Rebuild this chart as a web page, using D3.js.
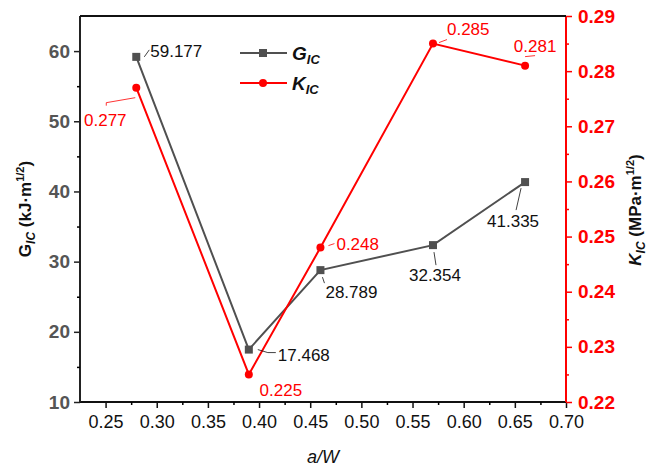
<!DOCTYPE html>
<html>
<head>
<meta charset="utf-8">
<script src="https://cdn.jsdelivr.net/npm/d3@7"></script>
<style>
  body { margin: 0; background: #fff; }
  text { font-family: "Liberation Sans", Arial, sans-serif; }
</style>
</head>
<body>
<div id="chart"></div>
<script>
// data
var aW = [0.28, 0.39, 0.46, 0.57, 0.66];
var gIC = [59.177, 17.468, 28.789, 32.354, 41.335];
var kIC = [0.277, 0.225, 0.248, 0.285, 0.281];
var xTicks = [0.25, 0.30, 0.35, 0.40, 0.45, 0.50, 0.55, 0.60, 0.65, 0.70];
var gTicks = [10, 20, 30, 40, 50, 60];
var kTicks = [0.22, 0.23, 0.24, 0.25, 0.26, 0.27, 0.28, 0.29];

// label offsets (px from point): text pos, leader lines
var gLab = [
  {tx: 14, ty: -6, anchor: "start", l: [[8, 0, 13, -7]]},
  {tx: 29, ty: 5, anchor: "start", l: [[9, 0, 19, 3], [19, 3, 27, 3]]},
  {tx: 5, ty: 22, anchor: "start", l: [[2, 7, 4, 13]]},
  {tx: 2, ty: 30, anchor: "middle", l: [[1, 7, 3, 20]]},
  {tx: -12, ty: 39, anchor: "middle", l: [[-4, 6, -9, 28]]}
];
var kLab = [
  {tx: -31, ty: 32, anchor: "middle", l: [[-30, 15, -1, 10], [-30, 15, -30, 18]]},
  {tx: 32, ty: 16, anchor: "middle", l: []},
  {tx: 16, ty: -4, anchor: "start", l: [[8, -2, 14, -4]]},
  {tx: 14, ty: -15, anchor: "start", l: [[6, -1, 14, -4]]},
  {tx: 10, ty: -20, anchor: "middle", l: [[0, -9, 10, -10]]}
];

var width = 651, height = 469;
var margin = {top: 16, right: 85, bottom: 67, left: 80};
var w = width - margin.left - margin.right;
var h = height - margin.top - margin.bottom;

var svg = d3.select("#chart").append("svg").attr("width", width).attr("height", height);
var g = svg.append("g").attr("transform", `translate(${margin.left},${margin.top})`);

var x = d3.scaleLinear().domain([0.225, 0.70]).range([0, w]);
var yG = d3.scaleLinear().domain([10, 65]).range([h, 0]);
var yK = d3.scaleLinear().domain([0.22, 0.29]).range([h, 0]);

var gray = "#505050", red = "#ff0000";

// minor ticks
function minors(ticks) {
  var out = [];
  for (var i = 0; i < ticks.length - 1; i++) out.push((ticks[i] + ticks[i + 1]) / 2);
  return out;
}

// x axis
var xAxis = g.append("g").attr("transform", `translate(0,${h})`)
  .call(d3.axisBottom(x).tickValues(xTicks).tickFormat(d3.format(".2f")).tickSize(6).tickPadding(7));
g.append("g").attr("transform", `translate(0,${h})`)
  .call(d3.axisBottom(x).tickValues(minors(xTicks)).tickFormat("").tickSize(3))
  .select(".domain").remove();
xAxis.selectAll("text").attr("font-size", 18).attr("fill", "#111").style("font-family", "Liberation Sans, Arial, sans-serif");

// left axis
var lAxis = g.append("g")
  .call(d3.axisLeft(yG).tickValues(gTicks).tickSize(6).tickPadding(4));
g.append("g")
  .call(d3.axisLeft(yG).tickValues([15, 25, 35, 45, 55]).tickFormat("").tickSize(3))
  .select(".domain").remove();
lAxis.selectAll("text").attr("font-size", 19).attr("font-weight", "bold").attr("fill", "#555")
  .style("font-family", "Liberation Sans, Arial, sans-serif");

// right axis
var rAxis = g.append("g").attr("transform", `translate(${w},0)`)
  .call(d3.axisRight(yK).tickValues(kTicks).tickFormat(d3.format(".2f")).tickSize(6).tickPadding(6));
var rMinor = g.append("g").attr("transform", `translate(${w},0)`)
  .call(d3.axisRight(yK).tickValues(minors(kTicks)).tickFormat("").tickSize(3));
rMinor.select(".domain").remove();
rAxis.selectAll("text").attr("font-size", 19).attr("font-weight", "bold").attr("fill", red)
  .style("font-family", "Liberation Sans, Arial, sans-serif");

// top border
g.append("line").attr("x1", 0).attr("x2", w).attr("y1", 0).attr("y2", 0)
  .attr("stroke", "#111").attr("stroke-width", 2);

g.selectAll(".domain").attr("stroke-width", 2);
g.selectAll(".tick line").attr("stroke-width", 1.5);
xAxis.selectAll(".domain, .tick line").attr("stroke", "#111");
lAxis.selectAll(".domain, .tick line").attr("stroke", "#222");
rAxis.selectAll(".domain, .tick line").attr("stroke", red);
rMinor.selectAll(".tick line").attr("stroke", red);
rAxis.select(".domain").attr("d", `M0,0V${h}`);
lAxis.select(".domain").attr("d", `M0,0V${h}`);
xAxis.select(".domain").attr("d", `M0,0H${w}`);

// lines
var gPts = aW.map((d, i) => [d, gIC[i]]);
var kPts = aW.map((d, i) => [d, kIC[i]]);

g.append("path").datum(gPts)
  .attr("d", d3.line().x(d => x(d[0])).y(d => yG(d[1])))
  .attr("fill", "none").attr("stroke", gray).attr("stroke-width", 2);
g.append("path").datum(kPts)
  .attr("d", d3.line().x(d => x(d[0])).y(d => yK(d[1])))
  .attr("fill", "none").attr("stroke", red).attr("stroke-width", 2);

g.selectAll(".gpt").data(gPts).enter().append("rect")
  .attr("x", d => x(d[0]) - 4).attr("y", d => yG(d[1]) - 4)
  .attr("width", 8).attr("height", 8).attr("fill", gray);
g.selectAll(".kpt").data(kPts).enter().append("circle")
  .attr("cx", d => x(d[0])).attr("cy", d => yK(d[1])).attr("r", 4).attr("fill", red);

// data labels
function label(px, py, o, val, col) {
  o.l.forEach(function(s) {
    g.append("line").attr("x1", px + s[0]).attr("y1", py + s[1]).attr("x2", px + s[2]).attr("y2", py + s[3])
      .attr("stroke", col).attr("stroke-width", 0.8);
  });
  g.append("text").attr("x", px + o.tx).attr("y", py + o.ty).attr("dy", "0.35em")
    .attr("text-anchor", o.anchor).attr("font-size", 17).attr("fill", col).text(val.toFixed(3));
}
gPts.forEach((d, i) => label(x(d[0]), yG(d[1]), gLab[i], d[1], "#111"));
kPts.forEach((d, i) => label(x(d[0]), yK(d[1]), kLab[i], d[1], red));

// legend
var leg = svg.append("g").attr("transform", "translate(240,53)");
[{c: gray, s: "G", sq: true}, {c: red, s: "K", sq: false}].forEach(function(e, i) {
  var row = leg.append("g").attr("transform", `translate(0,${i * 30})`);
  row.append("line").attr("x1", 0).attr("x2", 47).attr("stroke", e.c).attr("stroke-width", 2);
  if (e.sq) row.append("rect").attr("x", 19).attr("y", -4).attr("width", 8).attr("height", 8).attr("fill", e.c);
  else row.append("circle").attr("cx", 23).attr("r", 4).attr("fill", e.c);
  var t = row.append("text").attr("x", 52).attr("y", 7).attr("font-size", 19)
    .attr("font-weight", "bold").attr("font-style", "italic").attr("fill", "#111");
  t.append("tspan").text(e.s);
  t.append("tspan").attr("font-size", 13).attr("dy", 4).text("IC");
});

// axis titles
var lt = svg.append("text").attr("transform", "translate(31,209) rotate(-90)")
  .attr("text-anchor", "middle").attr("font-size", 17).attr("font-weight", "bold").attr("fill", "#111");
lt.append("tspan").text("G");
lt.append("tspan").attr("font-size", 12).attr("font-style", "italic").attr("dy", 4).text("IC");
lt.append("tspan").attr("dy", -4).text(" (kJ\u00b7m");
lt.append("tspan").attr("font-size", 11).attr("dy", -7).text("1/2");
lt.append("tspan").attr("dy", 7).text(")");

var rt = svg.append("text").attr("transform", "translate(641,210) rotate(-90)")
  .attr("text-anchor", "middle").attr("font-size", 17).attr("font-weight", "bold").attr("fill", "#111");
rt.append("tspan").attr("font-style", "italic").text("K");
rt.append("tspan").attr("font-size", 12).attr("font-style", "italic").attr("dy", 4).text("IC");
rt.append("tspan").attr("dy", -4).text(" (MPa\u00b7m");
rt.append("tspan").attr("font-size", 11).attr("dy", -7).text("1/2");
rt.append("tspan").attr("dy", 7).text(")");

svg.append("text").attr("x", x(0.4625) + margin.left).attr("y", 463).attr("text-anchor", "middle")
  .attr("font-size", 18).attr("font-style", "italic").attr("fill", "#111").text("a/W");
</script>
</body>
</html>
